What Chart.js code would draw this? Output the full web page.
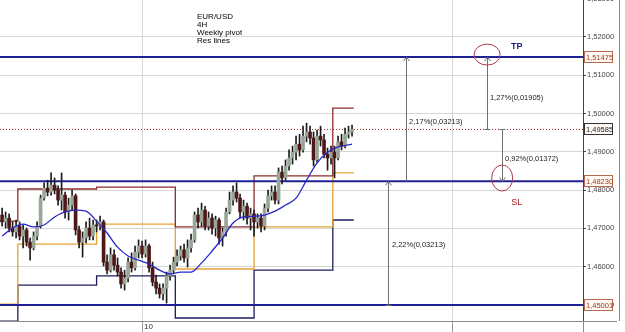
<!DOCTYPE html>
<html>
<head>
<meta charset="utf-8">
<title>EUR/USD 4H weekly pivot</title>
<script src="https://cdn.jsdelivr.net/npm/chart.js@4.4.1/dist/chart.umd.min.js"></script>
<style>
  html, body { margin: 0; padding: 0; background: #fff; }
  #wrap { width: 625px; height: 332px; position: relative; }
</style>
</head>
<body>
<div id="wrap"><canvas id="myChart"></canvas></div>
<script>
// 4H candles, one value per bar (bar index = position on the x axis)
const opens = [1.4735,1.4717,1.4727,1.4701,1.4691,1.4706,1.4680,1.4696,1.4664,1.4649,
  1.4680,1.4706,1.4779,1.4805,1.4795,1.4813,1.4800,1.4774,1.4787,1.4743,
  1.4761,1.4785,1.4696,1.4664,1.4675,1.4701,1.4680,1.4709,1.4706,1.4717,
  1.4612,1.4591,1.4631,1.4604,1.4586,1.4555,1.4570,1.4612,1.4597,1.4638,
  1.4654,1.4633,1.4654,1.4597,1.4560,1.4544,1.4529,1.4544,1.4576,1.4591,
  1.4612,1.4628,1.4644,1.4623,1.4649,1.4670,1.4735,1.4717,1.4748,1.4706,
  1.4727,1.4701,1.4722,1.4675,1.4691,1.4743,1.4774,1.4795,1.4779,1.4743,
  1.4758,1.4727,1.4738,1.4717,1.4727,1.4706,1.4753,1.4785,1.4795,1.4774,
  1.4847,1.4832,1.4863,1.4884,1.4899,1.4920,1.4905,1.4941,1.4952,1.4936,
  1.4879,1.4941,1.4931,1.4894,1.4884,1.4899,1.4884,1.4926,1.4915,1.4946,
  1.4952];
const highs = [1.4753,1.4743,1.4738,1.4717,1.4722,1.4717,1.4709,1.4701,1.4675,1.4691,
  1.4717,1.4787,1.4819,1.4826,1.4845,1.4832,1.4811,1.4845,1.4795,1.4779,
  1.4800,1.4790,1.4706,1.4691,1.4717,1.4727,1.4722,1.4722,1.4732,1.4722,
  1.4631,1.4649,1.4644,1.4623,1.4597,1.4591,1.4623,1.4636,1.4654,1.4670,
  1.4667,1.4670,1.4659,1.4612,1.4578,1.4555,1.4555,1.4586,1.4604,1.4625,
  1.4644,1.4654,1.4659,1.4670,1.4685,1.4743,1.4753,1.4766,1.4758,1.4743,
  1.4738,1.4732,1.4727,1.4701,1.4753,1.4795,1.4811,1.4819,1.4790,1.4774,
  1.4766,1.4753,1.4748,1.4738,1.4738,1.4764,1.4800,1.4811,1.4811,1.4858,
  1.4863,1.4879,1.4905,1.4915,1.4941,1.4946,1.4967,1.4975,1.4967,1.4952,
  1.4957,1.4967,1.4946,1.4910,1.4915,1.4915,1.4941,1.4946,1.4962,1.4967,
  1.4970];
const lows = [1.4706,1.4701,1.4691,1.4680,1.4675,1.4670,1.4649,1.4654,1.4617,1.4644,
  1.4670,1.4701,1.4774,1.4785,1.4787,1.4790,1.4761,1.4748,1.4727,1.4722,
  1.4748,1.4683,1.4649,1.4625,1.4662,1.4670,1.4670,1.4691,1.4696,1.4602,
  1.4581,1.4586,1.4591,1.4576,1.4544,1.4539,1.4560,1.4586,1.4591,1.4623,
  1.4623,1.4625,1.4586,1.4550,1.4529,1.4518,1.4513,1.4505,1.4565,1.4584,
  1.4602,1.4617,1.4612,1.4599,1.4638,1.4664,1.4701,1.4706,1.4696,1.4696,
  1.4685,1.4680,1.4659,1.4654,1.4680,1.4738,1.4761,1.4769,1.4727,1.4722,
  1.4711,1.4696,1.4680,1.4701,1.4691,1.4696,1.4743,1.4774,1.4764,1.4764,
  1.4816,1.4826,1.4852,1.4868,1.4879,1.4889,1.4899,1.4926,1.4920,1.4863,
  1.4873,1.4915,1.4884,1.4852,1.4868,1.4832,1.4879,1.4905,1.4910,1.4936,
  1.4941];
const closes = [1.4717,1.4727,1.4701,1.4691,1.4706,1.4680,1.4696,1.4664,1.4649,1.4680,
  1.4706,1.4779,1.4805,1.4795,1.4813,1.4800,1.4774,1.4787,1.4743,1.4761,
  1.4785,1.4696,1.4664,1.4675,1.4701,1.4680,1.4709,1.4706,1.4717,1.4612,
  1.4591,1.4631,1.4604,1.4586,1.4555,1.4570,1.4612,1.4597,1.4638,1.4654,
  1.4633,1.4654,1.4597,1.4560,1.4544,1.4529,1.4544,1.4576,1.4591,1.4612,
  1.4628,1.4644,1.4623,1.4649,1.4670,1.4735,1.4717,1.4748,1.4706,1.4727,
  1.4701,1.4722,1.4675,1.4691,1.4743,1.4774,1.4795,1.4779,1.4743,1.4758,
  1.4727,1.4738,1.4717,1.4727,1.4706,1.4753,1.4785,1.4795,1.4774,1.4847,
  1.4832,1.4863,1.4884,1.4899,1.4920,1.4905,1.4941,1.4952,1.4936,1.4879,
  1.4941,1.4931,1.4894,1.4884,1.4899,1.4884,1.4926,1.4915,1.4946,1.4952,
  1.49585];

// moving average, read every 3rd bar
const maIdx = [0,3,6,9,12,15,18,21,24,27,30,33,36,39,42,45,48,51,54,57,60,63,66,69,72,75,78,81,84,87,90,93,96,99,100];
const maVals = [1.4680,1.4701,1.4711,1.4704,1.4709,1.4730,1.4743,1.4748,1.4745,1.4719,
  1.4688,1.4651,1.4628,1.4617,1.4607,1.4591,1.4581,1.4586,1.4586,1.4610,
  1.4641,1.4675,1.4714,1.4730,1.4732,1.4735,1.4745,1.4761,1.4779,1.4826,
  1.4871,1.4899,1.4913,1.4918,1.4920];

// weekly pivot lines (bar where each week starts)
const weekStart = [-0.6, 4.5, 27, 49.5, 72, 94.5, 100.5];
const pivotR = [1.4719, 1.4803, 1.4808, 1.4704, 1.4837, 1.5014, 1.5014];
const pivotP = [1.4502, 1.4659, 1.4711, 1.4594, 1.4704, 1.4845, 1.4845];
const pivotS = [1.4458, 1.4552, 1.4576, 1.4466, 1.4591, 1.4722, 1.4722];

// drawn levels
const tpLevel = 1.51475;
const slLevel = 1.48230;
const lowLevel = 1.45001;
const lastPrice = 1.49585;

// axes
const yTicks = [1.45, 1.46, 1.47, 1.48, 1.49, 1.50, 1.51, 1.52, 1.53];
const xTickPos = [40, 128.8];
const xTickLabels = ['10', ''];
const xMin = -0.6, xMax = 166;
const yMin = 1.44582, yMax = 1.52966;

const fmt = v => v.toFixed(5).replace('.', ',');
const FONT = '"Liberation Sans", Arial, sans-serif';

// build datasets
const bars = closes.map((c, i) => i);
const wickData = bars.map(i => ({ x: i, y: [lows[i], highs[i]] }));
const bodyData = bars.map(i => ({ x: i, y: [opens[i], closes[i]] }));
const bodyColors = bars.map(i => closes[i] >= opens[i] ? '#98a698' : '#4e1818');
const steps = vals => weekStart.map((w, k) => ({ x: w, y: vals[k] }));
const flat = v => [{ x: xMin, y: v }, { x: xMax, y: v }];

// drawings on top: text, arrows, ellipses, price boxes
const drawings = {
  id: 'drawings',
  afterDraw(chart) {
    const { ctx, chartArea: a } = chart;
    const x = chart.scales.x, y = chart.scales.y;
    const px = v => Math.round(x.getPixelForValue(v)) + 0.5;
    const py = v => y.getPixelForValue(v);
    ctx.save();

    // frame on the right
    ctx.strokeStyle = '#8a8a8a';
    ctx.lineWidth = 1;
    ctx.beginPath();
    ctx.moveTo(a.right, a.bottom + 0.5); ctx.lineTo(617, a.bottom + 0.5);
    ctx.moveTo(619.5, 0); ctx.lineTo(619.5, a.bottom);
    ctx.moveTo(a.right + 0.5, a.bottom); ctx.lineTo(a.right + 0.5, 332);
    ctx.stroke();

    // title block
    ctx.fillStyle = '#000';
    ctx.font = '8px ' + FONT;
    ctx.textBaseline = 'alphabetic';
    ['EUR/USD', '4H', 'Weekly pivot', 'Res lines'].forEach((t, k) => ctx.fillText(t, 197, 19 + k * 8));

    // measuring arrows
    ctx.strokeStyle = '#707070';
    const arrow = (at, from, to, tick) => {
      const xx = px(at), y1 = py(from), y2 = py(to), d = y1 > y2 ? 1 : -1;
      ctx.beginPath();
      ctx.moveTo(xx, y1); ctx.lineTo(xx, y2);
      ctx.moveTo(xx - 3, y2 + 4 * d); ctx.lineTo(xx, y2); ctx.lineTo(xx + 3, y2 + 4 * d);
      if (tick) { ctx.moveTo(xx - 3, Math.round(y1) + 0.5); ctx.lineTo(xx + 3, Math.round(y1) + 0.5); }
      ctx.stroke();
    };
    arrow(115.4, slLevel, tpLevel, false);
    arrow(110.3, lowLevel, slLevel, true);
    arrow(138.6, lastPrice, tpLevel, true);
    arrow(142.9, lastPrice, slLevel, true);

    ctx.fillStyle = '#222';
    ctx.font = '7.5px ' + FONT;
    ctx.textBaseline = 'middle';
    ctx.fillText('2,17%(0,03213)', x.getPixelForValue(116.3), py(1.49778));
    ctx.fillText('1,27%(0,01905)', x.getPixelForValue(139.4), py(1.50400));
    ctx.fillText('0,92%(0,01372)', x.getPixelForValue(143.7), py(1.48812));
    ctx.fillText('2,22%(0,03213)', x.getPixelForValue(111.4), py(1.46567));

    // TP / SL circles
    ctx.strokeStyle = '#a83a4a';
    ctx.beginPath();
    ctx.ellipse(x.getPixelForValue(138.6), py(1.51540), 13, 10.5, 0, 0, Math.PI * 2);
    ctx.stroke();
    ctx.beginPath();
    ctx.ellipse(x.getPixelForValue(142.9), py(1.48316), 10.5, 13, 0, 0, Math.PI * 2);
    ctx.stroke();

    ctx.textAlign = 'center';
    ctx.font = 'bold 9px ' + FONT;
    ctx.fillStyle = '#1e1e8c';
    ctx.fillText('TP', x.getPixelForValue(147.1), py(1.51762));
    ctx.font = '9px ' + FONT;
    ctx.fillStyle = '#b02020';
    ctx.fillText('SL', x.getPixelForValue(147.1), py(1.47689));

    // price boxes on the axis
    ctx.textAlign = 'left';
    ctx.font = '7.5px ' + FONT;
    const box = (v, border, text) => {
      const yy = Math.round(py(v));
      ctx.fillStyle = '#fffaf4';
      ctx.fillRect(a.right + 1, yy - 5, 28, 11);
      ctx.strokeStyle = border;
      ctx.strokeRect(a.right + 1.5, yy - 5.5, 28, 11);
      ctx.fillStyle = text;
      ctx.fillText(fmt(v), a.right + 3, yy + 0.5);
    };
    box(tpLevel, '#b86a50', '#9a3a1a');
    box(lastPrice, '#333', '#222');
    box(slLevel, '#b86a50', '#9a3a1a');
    box(lowLevel, '#b86a50', '#9a3a1a');
    ctx.restore();
  }
};

document.addEventListener('DOMContentLoaded', function () {
  const ctx = document.getElementById('myChart').getContext('2d');
  new Chart(ctx, {
    type: 'bar',
    data: {
      datasets: [
        { type: 'line', data: steps(pivotR), stepped: true, borderColor: '#8c2c2c', borderWidth: 1.3, pointRadius: 0, order: 6 },
        { type: 'line', data: steps(pivotP), stepped: true, borderColor: '#e6a234', borderWidth: 1.3, pointRadius: 0, order: 6 },
        { type: 'line', data: steps(pivotS), stepped: true, borderColor: '#1c1c5c', borderWidth: 1.3, pointRadius: 0, order: 6 },
        { type: 'line', data: flat(tpLevel), borderColor: '#1f1f96', borderWidth: 2, pointRadius: 0, order: 5 },
        { type: 'line', data: flat(slLevel), borderColor: '#1f1f96', borderWidth: 2, pointRadius: 0, order: 5 },
        { type: 'line', data: flat(lowLevel), borderColor: '#1f1f96', borderWidth: 2, pointRadius: 0, order: 5 },
        { type: 'line', data: flat(lastPrice), borderColor: '#a02828', borderWidth: 1, borderDash: [1, 2], pointRadius: 0, order: 5 },
        { type: 'bar', data: wickData, backgroundColor: '#1c1c1c', barThickness: 1, grouped: false, order: 3 },
        { type: 'bar', data: bodyData, backgroundColor: bodyColors, barThickness: 3, grouped: false, order: 2 },
        {
          type: 'line',
          data: maIdx.map((b, k) => ({ x: b, y: maVals[k] })),
          borderColor: '#2828c8',
          borderWidth: 1.3,
          pointRadius: 0,
          cubicInterpolationMode: 'monotone',
          order: 1,
        },
      ],
    },
    options: {
      responsive: true,
      maintainAspectRatio: false,
      animation: false,
      layout: { padding: 0 },
      plugins: { legend: { display: false }, tooltip: { enabled: false } },
      scales: {
        x: {
          type: 'linear',
          min: xMin,
          max: xMax,
          offset: false,
          afterBuildTicks: s => { s.ticks = xTickPos.map(v => ({ value: v })); },
          afterFit: s => { s.height = 11; s.paddingLeft = 0; s.paddingRight = 0; },
          grid: { color: '#d6d6d6', tickColor: '#9a9a9a', tickLength: 11, offset: false },
          border: { color: '#8a8a8a' },
          ticks: {
            autoSkip: false,
            maxRotation: 0,
            align: 'start',
            padding: -10,
            labelOffset: 2,
            color: '#333',
            font: { family: FONT, size: 8 },
            callback: (v, k) => xTickLabels[k],
          },
        },
        y: {
          position: 'right',
          min: yMin,
          max: yMax,
          beginAtZero: false,
          afterBuildTicks: s => { s.ticks = yTicks.map(v => ({ value: v })); },
          afterFit: s => { s.width = 42; s.paddingTop = 0; s.paddingBottom = 0; },
          grid: { color: '#d6d6d6', tickColor: '#444', tickLength: 3 },
          border: { color: '#444' },
          ticks: {
            padding: 1,
            color: '#444',
            font: { family: FONT, size: 7.5 },
            callback: v => fmt(v),
          },
        },
      },
    },
    plugins: [drawings],
  });
});
</script>
</body>
</html>
